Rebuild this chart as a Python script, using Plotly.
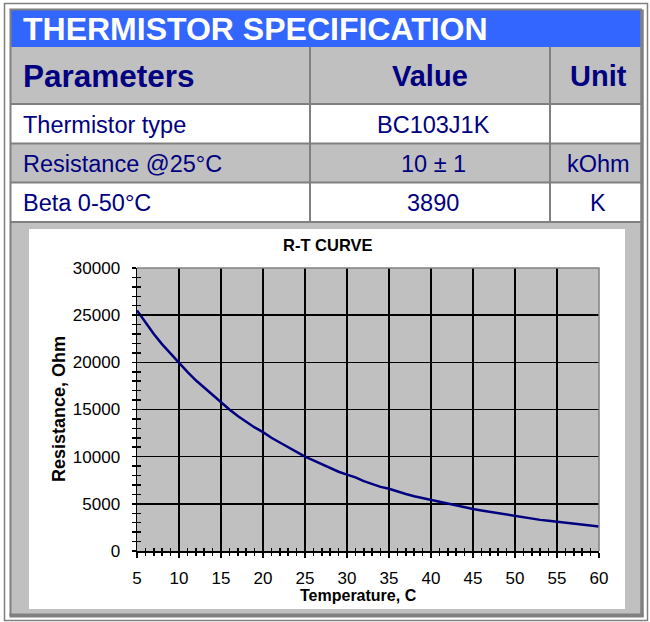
import plotly.graph_objects as go

# ---- data ----
temperature_c = list(range(5, 61))
resistance_ohm = [25500, 24200, 23000, 21900, 20900, 19900, 19000, 18100, 17300, 16500,
                  15700, 15000, 14300, 13700, 13100, 12600, 12000, 11500, 11000, 10500,
                  10000, 9600, 9200, 8800, 8400, 8100, 7800, 7400, 7100, 6800,
                  6600, 6300, 6050, 5800, 5600, 5400, 5200, 5000, 4800, 4600,
                  4450, 4300, 4150, 4000, 3850, 3700, 3550, 3450, 3300, 3200,
                  3100, 3000, 2900, 2800, 2700, 2600]

table_title = "THERMISTOR SPECIFICATION"
header_labels = ["Parameters", "Value", "Unit"]
param_names = ["Thermistor type", "Resistance @25°C", "Beta 0-50°C"]
param_values = ["BC103J1K", "10 ± 1", "3890"]
param_units = ["", "kOhm", "K"]

chart_title = "R-T CURVE"
x_title = "Temperature, C"
y_title = "Resistance, Ohm"

W, H = 650, 622
def px(x):
    return x / W
def py(y):
    return 1 - y / H

FONT = "Arial, Liberation Sans, sans-serif"
NAVY = "#000080"
GRAY = "#C0C0C0"
DGRAY = "#808080"
BLUE = "#3366FF"

shapes = []
def rect(x0, y0, x1, y1, fill=None, line_color=None, lw=0, layer="below"):
    d = dict(type="rect", xref="paper", yref="paper",
             x0=px(x0), x1=px(x1), y0=py(y1), y1=py(y0), layer=layer)
    d["fillcolor"] = fill if fill else "rgba(0,0,0,0)"
    d["line"] = dict(color=line_color if line_color else "rgba(0,0,0,0)", width=lw)
    shapes.append(d)

def hline(x0, x1, y, color, lw, layer="below"):
    shapes.append(dict(type="line", xref="paper", yref="paper", x0=px(x0), x1=px(x1),
                       y0=py(y), y1=py(y), line=dict(color=color, width=lw), layer=layer))

def vline(x, y0, y1, color, lw, layer="below"):
    shapes.append(dict(type="line", xref="paper", yref="paper", x0=px(x), x1=px(x),
                       y0=py(y0), y1=py(y1), line=dict(color=color, width=lw), layer=layer))

# frame
rect(4.5, 3.5, 647.5, 620.5, line_color=DGRAY, lw=1.5)
# table fills
rect(11, 10, 641, 47, fill=BLUE)
rect(11, 47, 641, 104, fill=GRAY)
rect(11, 104, 641, 143, fill="white")
rect(11, 143, 641, 183, fill=GRAY)
rect(11, 183, 641, 222, fill="white")
rect(11, 222, 641, 614, fill=GRAY)
rect(29, 229, 625, 609, fill="white")
# plot background
rect(137, 268, 599, 551, fill=GRAY)
# inner frame
vline(10.5, 9.5, 616, DGRAY, 2)
hline(9.5, 642, 9.5, DGRAY, 2)
vline(642, 9.5, 617, DGRAY, 3.5)
hline(9.5, 643.5, 615.5, DGRAY, 4)
# table grid lines
for yy in (104, 143.5, 182.5, 222):
    hline(11, 641, yy, DGRAY, 2)
for xx in (310, 550):
    vline(xx, 47, 222, DGRAY, 2)
# plot top/right border (gray)
hline(137, 599.5, 268, DGRAY, 1.5, layer="above")
vline(599, 268, 551, DGRAY, 1.5, layer="above")

annotations = []
def text(x, y, s, size, color, bold=False, xanchor="center", angle=0):
    annotations.append(dict(
        xref="paper", yref="paper", x=px(x), y=py(y), showarrow=False,
        text=f"<b>{s}</b>" if bold else s, xanchor=xanchor, yanchor="middle",
        textangle=angle, borderpad=0, font=dict(family=FONT, size=size, color=color)))

text(22, 29, table_title, 32, "white", bold=True, xanchor="left")
text(22, 76, header_labels[0], 31.5, NAVY, bold=True, xanchor="left")
text(430, 76, header_labels[1], 29, NAVY, bold=True)
text(598, 76, header_labels[2], 29, NAVY, bold=True)
row_y = [125, 164.5, 203]
for i in range(3):
    text(22, row_y[i], param_names[i], 23.5, NAVY, xanchor="left")
    text(433, row_y[i], param_values[i], 23.5, NAVY)
    text(598, row_y[i], param_units[i], 23.5, NAVY)

text(328, 245, chart_title, 16.5, "black", bold=True)
text(358, 595, x_title, 16, "black", bold=True)
text(59, 409, y_title, 18, "black", bold=True, angle=-90)

fig = go.Figure()
fig.add_trace(go.Scatter(x=temperature_c, y=resistance_ohm, mode="lines",
                         line=dict(color=NAVY, width=2.5), showlegend=False,
                         hoverinfo="skip"))
fig.add_trace(go.Scatter(x=temperature_c, y=resistance_ohm, mode="lines",
                         xaxis="x2", yaxis="y2",
                         line=dict(color="rgba(0,0,0,0)", width=0), showlegend=False,
                         hoverinfo="skip"))

tickfont = dict(family=FONT, size=17, color="black")
xdom = [px(137), px(599)]
ydom = [py(551), py(268)]

fig.update_layout(
    template="none",
    width=W, height=H, margin=dict(l=0, r=0, t=0, b=0, pad=0, autoexpand=False),
    paper_bgcolor="white", plot_bgcolor="rgba(0,0,0,0)",
    showlegend=False, shapes=shapes, annotations=annotations,
    xaxis=dict(domain=xdom, range=[5, 60], tick0=5, dtick=5, anchor="y",
               showgrid=True, gridcolor="black", gridwidth=1.5,
               showline=True, linecolor="black", linewidth=1.5,
               ticks="outside", ticklen=5, tickwidth=1.5, tickcolor="black",
               minor=dict(dtick=1, ticks="outside", ticklen=3, tickwidth=1.5,
                          tickcolor="black", showgrid=False),
               tickfont=tickfont, zeroline=False, ticklabelstandoff=6,
               automargin=False),
    yaxis=dict(domain=ydom, range=[0, 30000], tick0=0, dtick=5000, anchor="x",
               showgrid=True, gridcolor="black", gridwidth=1.5,
               showline=True, linecolor="black", linewidth=1.5,
               ticks="outside", ticklen=4, tickwidth=1.5, tickcolor="black",
               minor=dict(dtick=1000, ticks="outside", ticklen=4, tickwidth=1.5,
                          tickcolor="black", showgrid=False),
               tickfont=tickfont, tickformat="d", zeroline=False,
               ticklabelstandoff=8, automargin=False),
    xaxis2=dict(domain=xdom, range=[5, 60], tick0=5, dtick=5, overlaying="x",
                anchor="y2", side="bottom", showgrid=False, showline=False,
                ticks="inside", ticklen=3, tickwidth=1.5, tickcolor="black",
                minor=dict(dtick=1, ticks="inside", ticklen=3, tickwidth=1.5,
                           tickcolor="black", showgrid=False),
                showticklabels=False, zeroline=False, automargin=False),
    yaxis2=dict(domain=ydom, range=[0, 30000], tick0=0, dtick=5000, overlaying="y",
                anchor="x2", side="left", showgrid=False, showline=False,
                ticks="inside", ticklen=4, tickwidth=1.5, tickcolor="black",
                minor=dict(dtick=1000, ticks="inside", ticklen=4, tickwidth=1.5,
                           tickcolor="black", showgrid=False),
                showticklabels=False, zeroline=False, automargin=False),
)

fig.write_html("out.html",
               config={"displayModeBar": False, "staticPlot": True},
               post_script="document.body.style.margin='0px';"
                           "document.body.style.padding='0px';"
                           "document.body.style.overflow='hidden';")
